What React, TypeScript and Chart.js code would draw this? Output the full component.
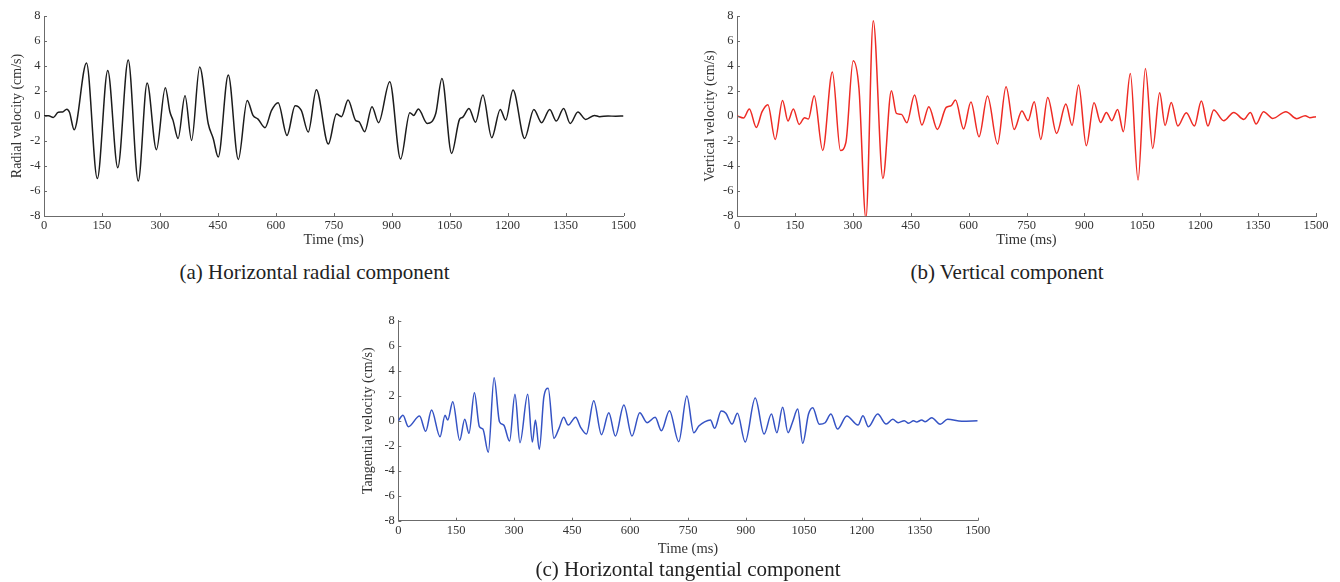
import React, { useEffect, useRef } from "react";
import { Chart, registerables } from "chart.js";

Chart.register(...registerables);

// ---- Data ----
const radialTime = [0, 12, 24, 37, 48, 59, 66, 78, 110, 138, 165, 191, 218, 244, 267, 291, 314, 326, 334, 347, 365, 382, 403, 425, 438, 451, 477, 503, 526, 541, 554, 572, 589, 606, 629, 650, 666, 684, 705, 736, 757, 770, 787, 807, 815, 830, 849, 866, 895, 923, 947, 957, 969, 992, 1014, 1030, 1055, 1076, 1084, 1100, 1117, 1136, 1159, 1181, 1195, 1214, 1244, 1268, 1288, 1309, 1326, 1345, 1362, 1382, 1402, 1425, 1438, 1460, 1480, 1500];
const radialVel = [0, 0.03, -0.12, 0.3, 0.32, 0.55, 0.3, -1.1, 4.24, -5.0, 3.65, -4.13, 4.48, -5.2, 2.64, -2.69, 2.27, 0.32, -0.35, -1.79, 1.63, -1.95, 3.92, -0.6, -1.8, -3.28, 3.28, -3.47, 1.25, 0.05, -0.25, -0.93, 0.45, 1.07, -1.55, 0.83, 0.45, -1.28, 2.1, -2.24, 0.16, -0.05, 1.28, -0.37, -0.45, -1.25, 0.75, -0.53, 2.75, -3.44, 0.27, 0.05, 0.56, -0.59, 0.2, 3.0, -2.99, -0.24, -0.1, 0.61, -0.5, 1.68, -1.73, 0.53, -0.32, 2.08, -1.79, 0.53, -0.53, 0.53, -0.4, 0.61, -0.59, 0.32, -0.27, 0.05, -0.05, 0, -0.02, 0];

const verticalTime = [0, 17, 32, 50, 65, 80, 99, 118, 132, 146, 161, 175, 185, 200, 222, 247, 268, 282, 301, 316, 334, 353, 378, 400, 413, 426, 440, 460, 479, 497, 519, 542, 555, 566, 587, 606, 627, 649, 675, 697, 718, 738, 754, 770, 787, 805, 828, 852, 868, 885, 905, 925, 942, 957, 971, 986, 1001, 1019, 1039, 1058, 1077, 1095, 1109, 1125, 1142, 1164, 1185, 1203, 1220, 1235, 1261, 1287, 1313, 1330, 1345, 1364, 1388, 1422, 1450, 1472, 1484, 1500];
const verticalVel = [0, -0.16, 0.56, -0.91, 0.35, 0.91, -1.87, 1.25, -0.4, 0.56, -0.67, -0.13, -0.24, 1.63, -2.75, 3.52, -2.75, -2.13, 4.43, 2.2, -8.2, 7.63, -4.99, 2.03, 0.21, 0.13, -0.53, 1.68, -0.72, 0.75, -1.07, 0.69, 0.83, 1.28, -1.04, 1.12, -1.65, 1.6, -2.24, 2.35, -1.07, 0.4, -0.37, 1.15, -1.87, 1.49, -1.39, 0.96, -0.75, 2.48, -2.37, 1.07, -0.51, 0.29, -0.37, 0.53, -1.25, 3.41, -5.12, 3.81, -2.59, 1.87, -0.75, 1.09, -0.8, 0.27, -0.8, 1.2, -0.8, 0.48, -0.37, 0.29, -0.27, 0.29, -0.64, 0.35, -0.19, 0.35, -0.21, 0.03, -0.13, -0.05];

const tangentialTime = [0, 12, 26, 55, 71, 86, 108, 121, 128, 141, 159, 172, 183, 197, 210, 219, 233, 248, 262, 273, 288, 302, 315, 335, 347, 355, 365, 377, 388, 403, 416, 428, 440, 459, 472, 487, 506, 526, 545, 562, 584, 605, 625, 644, 665, 681, 702, 726, 747, 765, 778, 793, 808, 819, 836, 848, 864, 878, 898, 924, 947, 966, 980, 995, 1009, 1021, 1034, 1047, 1062, 1073, 1090, 1105, 1120, 1137, 1161, 1190, 1203, 1217, 1241, 1263, 1280, 1294, 1310, 1321, 1334, 1342, 1355, 1364, 1381, 1403, 1422, 1459, 1500];
const tangentialVel = [0, 0.43, -0.48, 0.37, -0.85, 0.85, -1.28, 0.43, 0.05, 1.52, -1.57, 0.11, -1.01, 2.24, -0.48, -0.67, -2.53, 3.44, -0.08, -0.35, -1.63, 2.11, -1.76, 2.11, -1.71, 0.05, -2.29, 1.92, 2.59, -1.41, -0.61, 0.27, -0.35, 0.27, -0.53, -1.07, 1.6, -1.12, 0.64, -1.23, 1.25, -1.23, 0.64, -0.16, 0.27, -0.8, 0.8, -1.68, 1.97, -0.96, -0.43, -0.1, 0.05, -0.61, 0.77, 0.59, -0.27, 0.59, -1.71, 1.81, -1.07, 0.53, -0.96, 1.07, -0.96, -0.08, 0.93, -1.81, 0.53, 1.04, -0.29, -0.16, 0.53, -0.67, 0.37, -0.35, 0.4, -0.48, 0.53, -0.27, 0.11, -0.16, 0, -0.21, 0, -0.1, 0.05, -0.08, 0.24, -0.29, 0.11, -0.05, 0];

const timeRange = [0, 1500];
const timeStep = 150;
const velRange = [-8, 8];
const velStep = 2;

const xTitle = "Time (ms)";
const captions = [
  "(a) Horizontal radial component",
  "(b) Vertical component",
  "(c) Horizontal tangential component",
];

const SERIF = "'Liberation Serif', 'Times New Roman', serif";
const AXIS_COLOR = "#6b6b6b";
const TEXT_COLOR = "#333333";

const inwardTicks = {
  id: "inwardTicks",
  afterDraw(chart: any) {
    const { ctx, chartArea, scales } = chart;
    ctx.save();
    ctx.strokeStyle = AXIS_COLOR;
    ctx.lineWidth = 1;
    const len = 3;
    scales.x.ticks.forEach((t: any) => {
      const px = Math.round(scales.x.getPixelForValue(t.value)) + 0.5;
      ctx.beginPath();
      ctx.moveTo(px, chartArea.bottom);
      ctx.lineTo(px, chartArea.bottom - len);
      ctx.stroke();
    });
    scales.y.ticks.forEach((t: any) => {
      const py = Math.round(scales.y.getPixelForValue(t.value)) + 0.5;
      ctx.beginPath();
      ctx.moveTo(chartArea.left, py);
      ctx.lineTo(chartArea.left + len, py);
      ctx.stroke();
    });
    ctx.restore();
  },
};

type PanelProps = {
  left: number;
  top: number;
  width: number;
  height: number;
  padTop: number;
  padRight: number;
  yWidth: number;
  xHeight: number;
  yTitlePad: number;
  xTickPad: number;
  xTitlePad: number;
  yTitle: string;
  color: string;
  times: number[];
  values: number[];
};

function Panel(p: PanelProps) {
  const ref = useRef<HTMLCanvasElement | null>(null);
  useEffect(() => {
    if (!ref.current) return;
    const chart = new Chart(ref.current, {
      type: "line",
      data: {
        datasets: [
          {
            data: p.times.map((t, i) => ({ x: t, y: p.values[i] })),
            borderColor: p.color,
            borderWidth: 1.5,
            pointRadius: 0,
            cubicInterpolationMode: "monotone",
            fill: false,
          },
        ],
      },
      options: {
        animation: false,
        responsive: false,
        maintainAspectRatio: false,
        events: [],
        layout: { padding: { top: p.padTop, right: p.padRight, left: 0, bottom: 0 } },
        plugins: { legend: { display: false }, tooltip: { enabled: false } },
        scales: {
          x: {
            type: "linear",
            min: timeRange[0],
            max: timeRange[1],
            ticks: {
              stepSize: timeStep,
              autoSkip: false,
              maxRotation: 0,
              padding: p.xTickPad,
              color: TEXT_COLOR,
              font: { family: SERIF, size: 12.5 },
              callback: (v: any) => String(v),
            },
            grid: { drawOnChartArea: false, drawTicks: false },
            border: { display: true, color: AXIS_COLOR, width: 1 },
            title: {
              display: true,
              text: xTitle,
              color: TEXT_COLOR,
              font: { family: SERIF, size: 14.5 },
              padding: { top: 0, bottom: p.xTitlePad },
            },
            afterFit: (s: any) => {
              s.height = p.xHeight;
            },
          },
          y: {
            type: "linear",
            min: velRange[0],
            max: velRange[1],
            ticks: {
              stepSize: velStep,
              autoSkip: false,
              padding: 3.5,
              color: TEXT_COLOR,
              font: { family: SERIF, size: 12.5 },
              callback: (v: any) => String(v),
            },
            grid: { drawOnChartArea: false, drawTicks: false },
            border: { display: true, color: AXIS_COLOR, width: 1 },
            title: {
              display: true,
              text: p.yTitle,
              color: TEXT_COLOR,
              font: { family: SERIF, size: 14 },
              padding: { top: p.yTitlePad, bottom: 0 },
            },
            afterFit: (s: any) => {
              s.width = p.yWidth;
            },
          },
        },
      },
      plugins: [inwardTicks],
    } as any);
    return () => chart.destroy();
  }, []);
  return (
    <canvas
      ref={ref}
      width={p.width}
      height={p.height}
      style={{ position: "absolute", left: p.left, top: p.top, width: p.width, height: p.height }}
    />
  );
}

function Caption({ text, cx, cy }: { text: string; cx: number; cy: number }) {
  return (
    <div
      style={{
        position: "absolute",
        left: cx - 250,
        top: cy - 12,
        width: 500,
        height: 24,
        lineHeight: "24px",
        textAlign: "center",
        fontFamily: SERIF,
        fontSize: 21,
        color: "#222",
        whiteSpace: "nowrap",
      }}
    >
      {text}
    </div>
  );
}

export default function App() {
  return (
    <div
      style={{
        position: "fixed",
        left: 0,
        top: 0,
        width: 1340,
        height: 582,
        background: "#ffffff",
        overflow: "hidden",
      }}
    >
      <Panel
        left={0}
        top={0}
        width={660}
        height={250}
        padTop={16}
        padRight={36.5}
        yWidth={44}
        xHeight={34}
        yTitlePad={9}
        xTickPad={2}
        xTitlePad={1}
        yTitle="Radial velocity (cm/s)"
        color="#1c1c1c"
        times={radialTime}
        values={radialVel}
      />
      <Panel
        left={693}
        top={0}
        width={647}
        height={250}
        padTop={16}
        padRight={24}
        yWidth={44}
        xHeight={34}
        yTitlePad={8.6}
        xTickPad={2}
        xTitlePad={1}
        yTitle="Vertical velocity (cm/s)"
        color="#ee2b24"
        times={verticalTime}
        values={verticalVel}
      />
      <Panel
        left={354}
        top={300}
        width={660}
        height={260}
        padTop={20.7}
        padRight={36.3}
        yWidth={44.3}
        xHeight={39.3}
        yTitlePad={6.3}
        xTickPad={3}
        xTitlePad={2.6}
        yTitle="Tangential velocity (cm/s)"
        color="#3553c4"
        times={tangentialTime}
        values={tangentialVel}
      />
      <Caption text={captions[0]} cx={314.5} cy={272} />
      <Caption text={captions[1]} cx={1007} cy={272} />
      <Caption text={captions[2]} cx={688} cy={569} />
    </div>
  );
}
